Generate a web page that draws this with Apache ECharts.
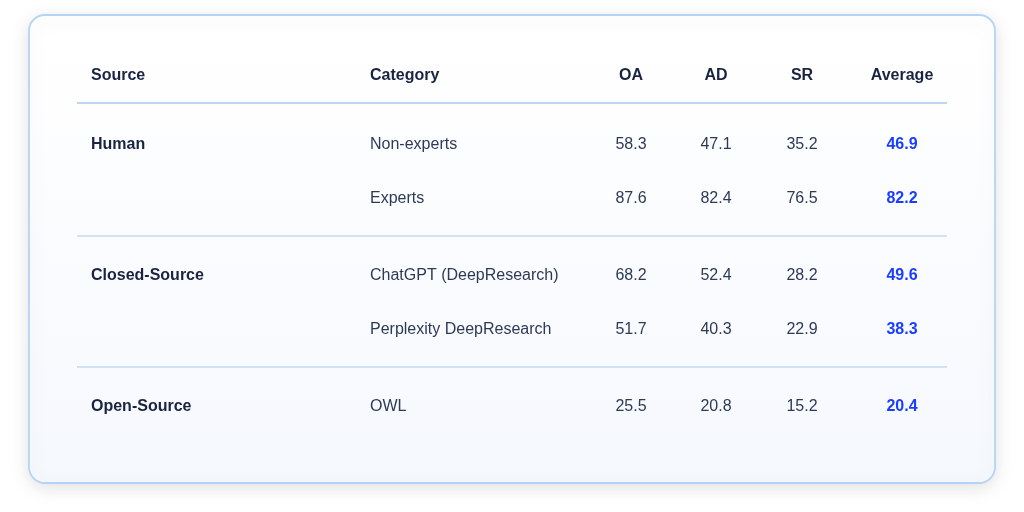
<!DOCTYPE html>
<html><head><meta charset="utf-8">
<script src="https://cdn.jsdelivr.net/npm/echarts@6/dist/echarts.min.js"></script>
<style>html,body{margin:0;padding:0;background:#fff}#c{width:1024px;height:512px}</style>
</head><body><div id="c"></div>
<script>
const headers = ['Source','Category','OA','AD','SR','Average'];
const sources = ['Human','','Closed-Source','','Open-Source'];
const categories = ['Non-experts','Experts','ChatGPT (DeepResearch)','Perplexity DeepResearch','OWL'];
const oa = [58.3, 87.6, 68.2, 51.7, 25.5];
const ad = [47.1, 82.4, 52.4, 40.3, 20.8];
const sr = [35.2, 76.5, 28.2, 22.9, 15.2];
const avg = [46.9, 82.2, 49.6, 38.3, 20.4];

const chart = echarts.init(document.getElementById('c'));
const font = '"Liberation Sans", Arial, sans-serif';
const colX = [91, 370, 631, 716, 802, 902];
const colAlign = ['left','left','center','center','center','center'];
const rowY = [145, 199, 276, 330, 407];
const dark = '#1a2440';
const g = [];
g.push({type:'rect', shape:{x:29,y:15,width:966,height:468,r:16},
  style:{fill:{type:'linear',x:0,y:0,x2:0,y2:1,colorStops:[{offset:0,color:'#ffffff'},{offset:1,color:'#f5f8fd'}]},
  stroke:'#b3d4f5',lineWidth:1.8,shadowBlur:18,shadowColor:'rgba(0,0,0,0.12)',shadowOffsetY:4}});
headers.forEach((h,i)=>g.push({type:'text',x:colX[i],y:76,style:{text:h,font:'bold 16px '+font,fill:dark,align:colAlign[i],verticalAlign:'middle'}}));
[[103,1.5],[236,1],[367,1]].forEach(([y,w])=>g.push({type:'line',shape:{x1:77,y1:y,x2:947,y2:y},style:{stroke:'#a9c9ea',lineWidth:w}}));
categories.forEach((c,r)=>{
  const y=rowY[r];
  const vals=[sources[r],c,oa[r].toFixed(1),ad[r].toFixed(1),sr[r].toFixed(1),avg[r].toFixed(1)];
  vals.forEach((v,i)=>{
    if(!v) return;
    let f='16px '+font, fill='#2e3a55';
    if(i===0){f='bold 16px '+font; fill=dark;}
    if(i===5){f='bold 16px '+font; fill='#1a3dff';}
    g.push({type:'text',x:colX[i],y:y,style:{text:v,font:f,fill:fill,align:colAlign[i],verticalAlign:'middle'}});
  });
});
chart.setOption({animation:false, graphic:g});
</script></body></html>
